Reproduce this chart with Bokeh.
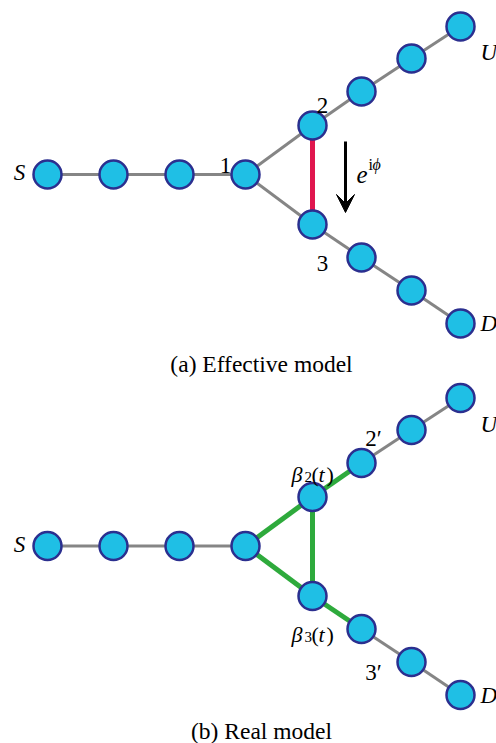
from bokeh.plotting import figure
from bokeh.models import Range1d, Arrow, VeeHead
from bokeh.core.properties import value
from bokeh.embed import file_html
from bokeh.resources import INLINE

# ---- data: node coordinates of one panel (reference frame, y downwards) ----
lead_x = [47, 113, 179, 245]          # S ... site 1
lead_y = [174, 174, 174, 174]
ring_x = [312, 312]                   # site 2, site 3
ring_y = [125, 224]
up_x = [361, 411, 460]                # arm towards U
up_y = [91, 58, 26]
down_x = [361, 411, 460]              # arm towards D
down_y = [257, 290, 323]
panel_dy = [0, 371.5]                 # vertical shift of panel (a) and (b)
captions = ["(a) Effective model", "(b) Real model"]
site_labels = ["1", "2", "3"]
lead_labels = ["S", "U", "D"]
prime_labels = ["2\u2032", "3\u2032"]

FONT = value("Liberation Serif")
GREY, RED, GREEN = "#858585", "#e0164e", "#2eaa3c"
FILL, EDGE = "#1fbfe5", "#2b2f8f"

p = figure(width=496, height=743, output_backend="svg", toolbar_location=None,
           x_range=Range1d(0, 496), y_range=Range1d(743, 0),
           x_axis_location=None, y_axis_location=None, min_border=0)
p.grid.visible = False
p.outline_line_color = None
p.background_fill_color = "white"
p.border_fill_color = "white"


def chain(xs, ys, dy):
    return ([xs[i] for i in range(len(xs) - 1)], [ys[i] + dy for i in range(len(ys) - 1)],
            [xs[i + 1] for i in range(len(xs) - 1)], [ys[i + 1] + dy for i in range(len(ys) - 1)])


for k, dy in enumerate(panel_dy):
    # grey lead chains
    for xs, ys in [(lead_x, lead_y), (up_x, up_y), (down_x, down_y)]:
        x0, y0, x1, y1 = chain(xs, ys, dy)
        p.segment(x0, y0, x1, y1, line_color=GREY, line_width=3)
    ring_col = GREY if k == 0 else GREEN
    ring_w = 3 if k == 0 else 5
    # site 1 -> 2, 1 -> 3
    p.segment([lead_x[-1]] * 2, [lead_y[-1] + dy] * 2, ring_x, [y + dy for y in ring_y],
              line_color=ring_col, line_width=ring_w)
    # arms attached to 2 and 3
    p.segment(ring_x, [y + dy for y in ring_y], [up_x[0], down_x[0]],
              [up_y[0] + dy, down_y[0] + dy], line_color=ring_col, line_width=ring_w)
    # 2 - 3 bond
    p.segment([ring_x[0]], [ring_y[0] + dy], [ring_x[1]], [ring_y[1] + dy],
              line_color=RED if k == 0 else GREEN, line_width=5)
    # nodes
    xs = lead_x + ring_x + up_x + down_x
    ys = [y + dy for y in lead_y + ring_y + up_y + down_y]
    p.scatter(xs, ys, size=28, fill_color=FILL, line_color=EDGE, line_width=2.5)

    # S, U, D labels
    p.text(x=[lead_x[0] - 28], y=[lead_y[0] + dy - 2], text=[lead_labels[0]],
           text_font=FONT, text_font_size="23px", text_font_style="italic",
           text_align="center", text_baseline="alphabetic")
    p.text(x=[up_x[-1] + 20, down_x[-1] + 20], y=[up_y[-1] + dy + 26, down_y[-1] + dy],
           text=lead_labels[1:], text_font=FONT, text_font_size="23px",
           text_font_style="italic", text_align="left", text_baseline="alphabetic")
    # caption
    cap_y = 363 + dy if k == 0 else 730
    p.text(x=[261], y=[cap_y], text=[captions[k]], text_font=FONT, text_font_size="23.5px",
           text_align="center", text_baseline="alphabetic")

# panel (a): site numbers
p.text(x=[lead_x[-1] - 20, ring_x[0] + 10, ring_x[1] + 10],
       y=[lead_y[-1] - 9, ring_y[0] - 20, ring_y[1] + 39],
       text=site_labels, text_font=FONT, text_font_size="23px",
       text_align="center", text_baseline="alphabetic")

# panel (a): arrow with phase e^{i phi}
ax = ring_x[0] + 33
p.add_layout(Arrow(x_start=ax, y_start=ring_y[0] + 16, x_end=ax, y_end=ring_y[1] - 12,
                   line_width=3, line_color="black",
                   end=VeeHead(size=18, fill_color="black", line_color="black", line_width=1)))
ex, ey = ax + 11, (ring_y[0] + ring_y[1]) / 2 - 1
p.text(x=[ex], y=[ey], text=["e"], text_font=FONT, text_font_size="25px",
       text_font_style="italic", text_baseline="alphabetic", text_align="left")
p.text(x=[ex + 12], y=[ey - 10], text=["i"], text_font=FONT, text_font_size="16px",
       text_baseline="alphabetic", text_align="left")
p.text(x=[ex + 16], y=[ey - 10], text=["\u03d5"], text_font=FONT, text_font_size="16px",
       text_font_style="italic", text_baseline="alphabetic", text_align="left")

# panel (b): beta labels
dyb = panel_dy[1]
for j, (sub, by) in enumerate([("2", ring_y[0] + dyb - 23), ("3", ring_y[1] + dyb + 38)]):
    bx = ring_x[j] - 21
    p.text(x=[bx], y=[by], text=["\u03b2"], text_font=FONT, text_font_size="22px",
           text_font_style="italic", text_baseline="alphabetic", text_align="left")
    p.text(x=[bx + 13], y=[by + 3], text=[sub], text_font=FONT, text_font_size="15px",
           text_baseline="alphabetic", text_align="left")
    p.text(x=[bx + 20], y=[by], text=["("], text_font=FONT, text_font_size="22px",
           text_baseline="alphabetic", text_align="left")
    p.text(x=[bx + 27], y=[by], text=["t"], text_font=FONT, text_font_size="22px",
           text_font_style="italic", text_baseline="alphabetic", text_align="left")
    p.text(x=[bx + 35], y=[by], text=[")"], text_font=FONT, text_font_size="22px",
           text_baseline="alphabetic", text_align="left")

# panel (b): primed labels
p.text(x=[up_x[0] + 12, down_x[1] - 38], y=[up_y[1] + dyb + 8, down_y[1] + dyb + 10],
       text=prime_labels, text_font=FONT, text_font_size="23px",
       text_align="center", text_baseline="alphabetic")

open("out.html", "w").write(file_html(p, INLINE))
